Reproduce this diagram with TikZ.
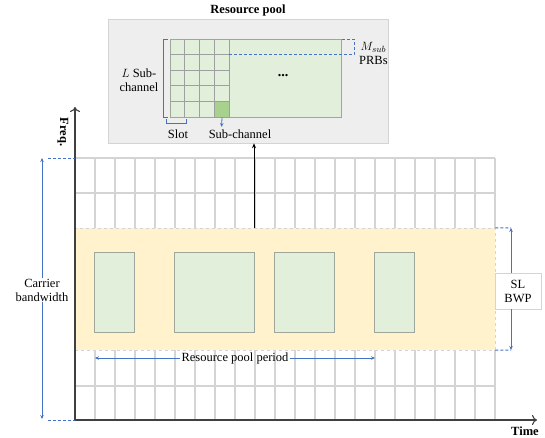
\documentclass[tikz,border=0pt]{standalone}
\usepackage{fontspec}
\setmainfont{Liberation Serif}
\usetikzlibrary{arrows.meta}
\definecolor{gridc}{HTML}{D4D4D4}
\definecolor{bandc}{HTML}{FFF2CC}
\definecolor{greenc}{HTML}{E2EFDA}
\definecolor{greenb}{HTML}{9FA69A}
\definecolor{darkg}{HTML}{A9D18E}
\definecolor{bluec}{HTML}{4472C4}
\definecolor{poolc}{HTML}{EEEEEE}
\definecolor{axisc}{HTML}{404040}
\tikzset{
  gridline/.style={draw=gridc, line width=1.5pt},
  rpbox/.style={fill=greenc, draw=greenb, line width=0.8pt},
  bluearrow/.style={draw=bluec, line width=1pt, -{Stealth[length=4pt,width=3.5pt]}},
  bluedash/.style={draw=bluec, line width=1pt, dashed, dash pattern=on 3pt off 2pt},
  bluebrack/.style={draw=bluec, line width=1pt},
  lbl/.style={font=\fontsize{12.5}{14}\selectfont, align=center, inner sep=1pt},
  axisline/.style={draw=axisc, line width=1.1pt, -{To[length=5pt,width=10pt]}},
  innergrid/.style={draw=gray!75, line width=0.7pt},
}
\begin{document}
\begin{tikzpicture}[x=1pt,y=-1pt]
\useasboundingbox (0,0) rectangle (545,437);

% ---------- main time-frequency grid ----------
\foreach \k in {0,...,21} {
  \draw[gridline] ({75+20*\k},158) -- ({75+20*\k},228);
  \draw[gridline] ({75+20*\k},350) -- ({75+20*\k},420);
}
\foreach \y in {158,193,386} {
  \draw[gridline] (75,\y) -- (495,\y);
}
% SL BWP band
\node[fill=bandc, draw=gridc, dashed, line width=0.5pt, minimum width=420pt, minimum height=122pt, inner sep=0pt] (bwp) at (285,289) {};
% resource pool periods
\node[rpbox, minimum width=40pt, minimum height=80pt, inner sep=0pt] (p1) at (114,292) {};
\node[rpbox, minimum width=80pt, minimum height=80pt, inner sep=0pt] (p2) at (214,292) {};
\node[rpbox, minimum width=60pt, minimum height=80pt, inner sep=0pt] (p3) at (304,292) {};
\node[rpbox, minimum width=40pt, minimum height=80pt, inner sep=0pt] (p4) at (394,292) {};

% axes
\coordinate (origin) at (75,420);
\coordinate (ftop) at (75,107);
\coordinate (tend) at (537,420);
\draw[axisline] (origin) -- (ftop);
\draw[axisline] (origin) -- (tend);
\node[lbl, font=\fontsize{12.5}{14}\selectfont\bfseries, rotate=-90] (freq) at (63,132) {Freq.};
\node[lbl, font=\fontsize{12.5}{14}\selectfont\bfseries] (time) at (525,431) {Time};

% carrier bandwidth
\node[lbl] (cbw) at (42,290) {Carrier\\bandwidth};
\coordinate (cbt) at (42,158);
\coordinate (cbb) at (42,419);
\coordinate (cbtd) at (48,158);
\coordinate (cbbd) at (48,420);
\coordinate (gtl) at (75,158);
\draw[bluedash] (cbtd) -- (gtl);
\draw[bluedash] (cbbd) -- (origin);
\draw[bluearrow] (cbw.north) -- (cbt);
\draw[bluearrow] (cbw.south) -- (cbb);

% SL BWP
\node[lbl, fill=white, draw=gridc, line width=0.5pt, minimum width=46pt, minimum height=36pt] (slbwp) at (518,291) {SL\\BWP};
\coordinate (bt) at (511,228);
\coordinate (bb) at (511,350);
\draw[bluedash] (bwp.north east) -- (bt);
\draw[bluedash] (bwp.south east) -- (bb);
\draw[bluearrow] (slbwp.north -| bt) -- (bt);
\draw[bluearrow] (slbwp.south -| bb) -- (bb);

% resource pool period
\node[lbl] (rpp) at (235,358) {Resource pool period};
\coordinate (rppl) at (95,358);
\coordinate (rppr) at (375,358);
\draw[bluearrow] (rpp.west) -- (rppl);
\draw[bluearrow] (rpp.east) -- (rppr);

% ---------- resource pool zoom ----------
\node[lbl, font=\fontsize{12.5}{14}\selectfont\bfseries] (title) at (248,10) {Resource pool};
\node[fill=poolc, draw=gridc, line width=0.5pt, minimum width=280pt, minimum height=124pt, inner sep=0pt] (pool) at (248,81) {};
\coordinate (upb) at (254,228);
\draw[draw=black, line width=0.9pt, -{Stealth[length=5pt,width=4pt]}] (upb) -- (pool.south -| upb);

\node[rpbox, minimum width=171pt, minimum height=78pt, inner sep=0pt, anchor=north west] (ga) at (170,39) {};
\foreach \k in {1,...,4} {
  \draw[innergrid] ({170+14.75*\k},39) -- ({170+14.75*\k},117);
  \draw[innergrid] (170,{39+15.6*\k}) -- (229,{39+15.6*\k});
}
\node[fill=darkg, draw=gray!75, line width=0.7pt, minimum width=14.75pt, minimum height=15.6pt, inner sep=0pt, anchor=north west] (cell) at (214.25,101.4) {};
\node[font=\fontsize{14}{14}\selectfont\bfseries] (dots) at (283,76) {...};

% M_sub bracket
\coordinate (m1) at (229,54.6);
\coordinate (m2) at (354,54.6);
\coordinate (m3) at (354,39);
\coordinate (m4) at (341,39);
\draw[bluedash, line width=0.8pt] (m1) -- (m2) -- (m3) -- (m4);
\node[lbl, anchor=west] (msub) at (358,53) {$M_{sub}$\\PRBs};

% L sub-channel bracket
\coordinate (l1) at (168,39);
\coordinate (l2) at (163,39);
\coordinate (l3) at (163,117);
\coordinate (l4) at (168,117);
\draw[bluebrack] (l1) -- (l2) -- (l3) -- (l4);
\node[lbl] (lsub) at (139,80) {$L$ Sub-\\channel};

% slot bracket
\coordinate (s1) at (166,119);
\coordinate (s2) at (166,123.5);
\coordinate (s3) at (186,123.5);
\coordinate (s4) at (186,119);
\draw[bluebrack] (s1) -- (s2) -- (s3) -- (s4);
\node[lbl] (slot) at (178,134) {Slot};

% sub-channel arrow
\coordinate (sca) at (221.6,127);
\draw[bluearrow, line width=0.8pt] (cell.south) -- (sca);
\node[lbl] (subch) at (240,134) {Sub-channel};
\end{tikzpicture}
\end{document}
